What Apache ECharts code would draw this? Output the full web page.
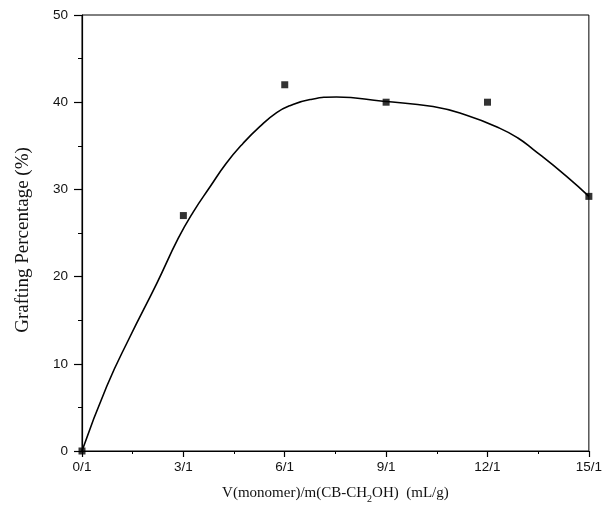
<!DOCTYPE html>
<html>
<head>
<meta charset="utf-8">
<script src="https://cdn.jsdelivr.net/npm/echarts@6/dist/echarts.min.js"></script>
<style>
  html, body { margin: 0; padding: 0; background: #fff; }
  #chart { width: 605px; height: 518px; }
</style>
</head>
<body>
<div id="chart"></div>
<script>
// Measured grafting percentage at each monomer / CB-CH2OH ratio
const ratios = [0, 3, 6, 9, 12, 15];
const grafting = [0, 27, 42, 40, 40, 29.2];

// Smoothed fit curve through the measurements
const fitX = [0, 0.73, 1.42, 2.21, 2.85, 3.29, 3.79, 4.27, 4.77, 5.26, 5.76, 6.15, 6.75, 7.53, 8.91, 10.39, 11.38, 12.37, 12.9, 13.35, 14.34, 15];
const fitY = [0, 7.4, 13.1, 19.2, 24.4, 27.4, 30.3, 33.0, 35.3, 37.2, 38.8, 39.6, 40.3, 40.6, 40.1, 39.5, 38.5, 37.0, 35.9, 34.6, 31.5, 29.2];

// Tick labels of the ratio axis
const xTickLabels = ['0/1', '3/1', '6/1', '9/1', '12/1', '15/1'];

const chart = echarts.init(document.getElementById('chart'), null, { renderer: 'canvas' });

const tickFont = { fontFamily: 'Liberation Sans', fontSize: 13.5, color: '#111' };

chart.setOption({
  animation: false,
  backgroundColor: '#fff',
  grid: {
    left: 82, right: 16, top: 15, bottom: 67,
    show: true, borderColor: '#000', borderWidth: 1, backgroundColor: 'transparent'
  },
  xAxis: {
    type: 'value',
    min: 0, max: 15, interval: 3,
    axisLine: { show: true, onZero: false, lineStyle: { color: '#000', width: 1.2 } },
    axisTick: { show: true, inside: false, length: 6, lineStyle: { color: '#000', width: 1.2 } },
    minorTick: { show: true, splitNumber: 2, length: 3, lineStyle: { color: '#000', width: 1 } },
    splitLine: { show: false },
    axisLabel: Object.assign({
      margin: 9,
      formatter: v => xTickLabels[ratios.indexOf(v)] !== undefined ? xTickLabels[ratios.indexOf(v)] : ''
    }, tickFont),
    name: '{a|V(monomer)/m(CB-CH}{s|2}{a|OH)  (mL/g)}',
    nameLocation: 'middle',
    nameGap: 33,
    nameTextStyle: {
      rich: {
        a: { fontFamily: 'Liberation Serif', fontSize: 15, color: '#111', lineHeight: 18 },
        s: { fontFamily: 'Liberation Serif', fontSize: 10, color: '#111', padding: [12, 0, 0, 0], lineHeight: 18 }
      }
    }
  },
  yAxis: {
    type: 'value',
    min: 0, max: 50, interval: 10,
    axisLine: { show: true, lineStyle: { color: '#000', width: 1.2 } },
    axisTick: { show: true, inside: false, length: 8, lineStyle: { color: '#000', width: 1.2 } },
    minorTick: { show: true, splitNumber: 2, length: 4, lineStyle: { color: '#000', width: 1 } },
    splitLine: { show: false },
    axisLabel: Object.assign({ margin: 14 }, tickFont),
    name: 'Grafting Percentage (%)',
    nameLocation: 'middle',
    nameGap: 49,
    nameTextStyle: { fontFamily: 'Liberation Serif', fontSize: 19, color: '#111', padding: [0, 0, 0, -14] }
  },
  series: [
    {
      name: 'fit',
      type: 'line',
      data: fitX.map((x, i) => [x, fitY[i]]),
      smooth: 0.5,
      showSymbol: false,
      lineStyle: { color: '#000', width: 1.6 },
      z: 2
    },
    {
      name: 'measured',
      type: 'scatter',
      data: ratios.map((x, i) => [x, grafting[i]]),
      symbol: 'rect',
      symbolSize: 7,
      itemStyle: { color: '#000' },
      clip: false,
      z: 3
    }
  ]
});
</script>
</body>
</html>
